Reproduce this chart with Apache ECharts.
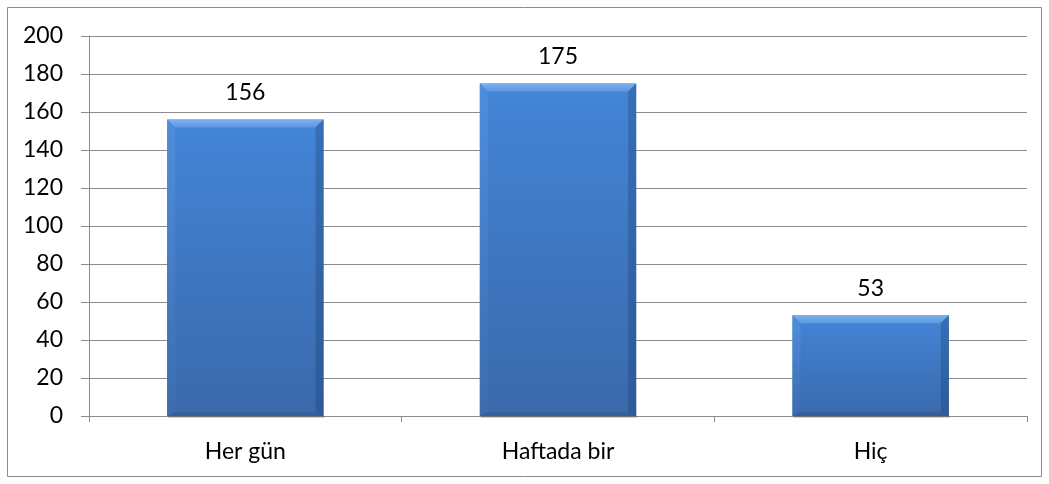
<!DOCTYPE html>
<html>
<head>
<meta charset="utf-8">
<script src="https://cdn.jsdelivr.net/npm/echarts@6/dist/echarts.min.js"></script>
<style>
  html, body { margin: 0; padding: 0; background: #fff; }
  #chart { width: 1049px; height: 484px; }
</style>
</head>
<body>
<div id="chart"></div>
<script>
// Survey frequency counts
const categories = ['Her gün', 'Haftada bir', 'Hiç'];
const counts = [156, 175, 53];
const yTicks = { min: 0, max: 200, interval: 20 };

const FONT = 'Lato, "Open Sans", sans-serif';
const FONT_SIZE = 23;
const chart = echarts.init(document.getElementById('chart'));

// Bevelled bar: a face plus four trapezoid edges, shaded like a raised block
function renderBevelBar(params, api) {
  const idx = api.value(0);
  const val = api.value(1);
  const top = api.coord([idx, val]);
  const base = api.coord([idx, 0]);
  const bandW = api.size([1, 0])[0];
  const w = bandW * 0.5;
  const x0 = top[0] - w / 2, x1 = top[0] + w / 2;
  const y0 = top[1], y1 = base[1];
  const b = Math.min(8, (y1 - y0) / 3);
  const bb = 4;
  const children = [
    { type: 'rect', shape: { x: x0 + 1, y: y1, width: w, height: 2 },
      style: { fill: 'rgba(0,0,0,0.18)' } },
    { type: 'rect', shape: { x: x0, y: y0, width: w, height: y1 - y0 },
      style: { fill: new echarts.graphic.LinearGradient(0, 0, 0, 1, [
        { offset: 0, color: '#4385d7' }, { offset: 1, color: '#3a69ab' }]) } },
    { type: 'polygon', shape: { points: [[x0, y0], [x1, y0], [x1 - b, y0 + b], [x0 + b, y0 + b]] },
      style: { fill: new echarts.graphic.LinearGradient(0, 0, 0, 1, [
        { offset: 0, color: '#7db0ef' }, { offset: 1, color: '#5b97e2' }]) } },
    { type: 'polygon', shape: { points: [[x0, y0], [x0 + b, y0 + b], [x0 + b, y1 - bb], [x0, y1]] },
      style: { fill: new echarts.graphic.LinearGradient(0, 0, 0, 1, [
        { offset: 0, color: '#4f8edd' }, { offset: 1, color: '#3c6cae' }]) } },
    { type: 'polygon', shape: { points: [[x1, y0], [x1, y1], [x1 - b, y1 - bb], [x1 - b, y0 + b]] },
      style: { fill: new echarts.graphic.LinearGradient(0, 0, 0, 1, [
        { offset: 0, color: '#376eb5' }, { offset: 1, color: '#2e5a97' }]) } },
    { type: 'polygon', shape: { points: [[x0, y1], [x0 + b, y1 - bb], [x1 - b, y1 - bb], [x1, y1]] },
      style: { fill: '#335f9c' } },
    { type: 'text', x: top[0], y: y0 - 27,
      style: { text: String(val), fill: '#000', font: FONT_SIZE + 'px ' + FONT, align: 'center', verticalAlign: 'middle' } }
  ];
  return { type: 'group', children: children };
}

chart.setOption({
  animation: false,
  backgroundColor: '#fff',
  graphic: [{
    type: 'rect', left: 7, top: 7, z: -1,
    shape: { width: 1034, height: 469 },
    style: { fill: '#fff', stroke: '#8c8c8c', lineWidth: 1 }
  }],
  grid: { left: 89, right: 22, top: 36, bottom: 68 },
  xAxis: {
    type: 'category',
    data: categories,
    axisLine: { lineStyle: { color: '#8c8c8c' } },
    axisTick: { show: true, length: 6, alignWithLabel: false, lineStyle: { color: '#8c8c8c' } },
    axisLabel: { color: '#000', fontSize: FONT_SIZE, fontFamily: FONT, margin: 24 }
  },
  yAxis: {
    type: 'value',
    min: yTicks.min, max: yTicks.max, interval: yTicks.interval,
    axisLine: { show: true, lineStyle: { color: '#8c8c8c' } },
    axisTick: { show: true, length: 8, lineStyle: { color: '#8c8c8c' } },
    axisLabel: { color: '#000', fontSize: FONT_SIZE, fontFamily: FONT, margin: 26 },
    splitLine: { lineStyle: { color: '#8c8c8c', width: 1 } }
  },
  series: [{
    type: 'custom',
    renderItem: renderBevelBar,
    encode: { x: 0, y: 1 },
    data: counts.map((v, i) => [i, v])
  }]
});
</script>
</body>
</html>
